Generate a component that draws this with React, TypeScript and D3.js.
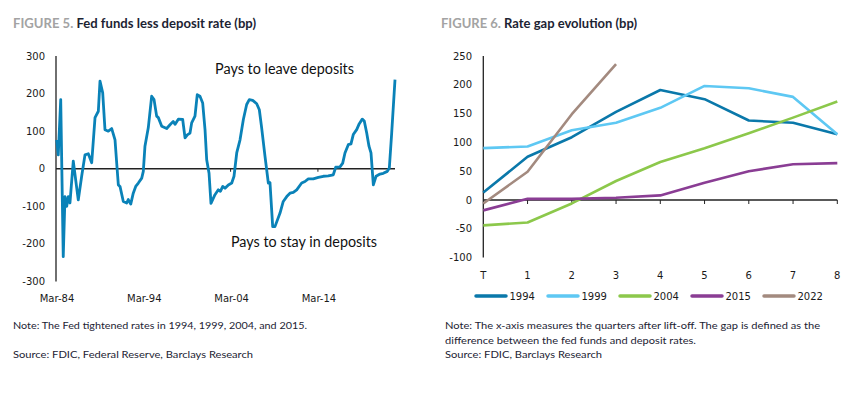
import { useMemo } from 'react';
import * as d3 from 'd3';

// Figure 5: fed funds less deposit rate (bp), decimal years
const spreadDates = [
  1984.25, 1984.43, 1984.71, 1985.0, 1985.2, 1985.4, 1985.58, 1985.77, 1986.15, 1986.72,
  1987.11, 1987.49, 1987.87, 1988.26, 1988.64, 1989.02, 1989.21, 1989.52, 1989.78, 1990.16,
  1990.55, 1990.93, 1991.12, 1991.31, 1991.5, 1991.88, 1992.27, 1992.45, 1992.73, 1993.02,
  1993.3, 1993.6, 1993.99, 1994.17, 1994.36, 1994.74, 1995.13, 1995.4, 1995.7, 1995.89,
  1996.28, 1996.85, 1997.23, 1997.6, 1997.8, 1998.18, 1998.68, 1998.95, 1999.21, 1999.52,
  1999.71, 2000.09, 2000.35, 2000.66, 2000.97, 2001.24, 2001.43, 2001.7, 2001.92, 2002.38,
  2002.76, 2003.0, 2003.27, 2003.53, 2003.91, 2004.3, 2004.56, 2004.87, 2005.25, 2005.63,
  2006.01, 2006.31, 2006.7, 2007.16, 2007.46, 2007.73, 2008.11, 2008.49, 2008.68, 2008.99,
  2009.25, 2009.83, 2010.2, 2010.6, 2010.97, 2011.35, 2011.74, 2012.31, 2012.69, 2013.07,
  2013.64, 2014.22, 2014.79, 2015.36, 2015.93, 2016.21, 2016.7, 2017.01, 2017.27, 2017.65,
  2017.96, 2018.22, 2018.61, 2018.91, 2019.25, 2019.48, 2019.76, 2020.02, 2020.25, 2020.52,
  2020.83, 2021.28, 2021.66, 2022.12, 2022.35, 2022.62, 2023.0,
];
const spreadValues = [
  77, 37, 184, -234, -74, -100, -74, -91, 20, -83,
  -20, 37, 40, 16, 136, 153, 233, 202, 104, 100,
  107, 77, 16, -43, -47, -87, -91, -82, -94, -65,
  -47, -38, -25, -7, 60, 109, 193, 184, 140, 136,
  113, 107, 117, 126, 118, 132, 131, 82, 90, 95,
  122, 140, 197, 193, 175, 104, 24, -12, -92, -69,
  -56, -60, -47, -52, -43, -38, -20, 42, 77, 131,
  171, 184, 182, 173, 157, 108, 33, -38, -37, -154,
  -154, -118, -87, -74, -65, -63, -56, -38, -34, -27,
  -27, -23, -20, -19, -16, 4, 5, 15, 42, 64,
  66, 91, 104, 120, 132, 127, 95, 60, 42, -43,
  -20, -14, -12, -7, 2, 95, 237,
];
const spreadTickYears = [1984.17, 1994.17, 2004.17, 2014.17];
const spreadTickLabels = ['Mar-84', 'Mar-94', 'Mar-04', 'Mar-14'];
const spreadYTicks = [300, 200, 100, 0, -100, -200, -300];

// Figure 6: rate gap evolution (bp)
const quarterLabels = ['T', '1', '2', '3', '4', '5', '6', '7', '8'];
const gapYTicks = [250, 200, 150, 100, 50, 0, -50, -100];
const gapYears = ['1994', '1999', '2004', '2015', '2022'];
const gap1994 = [13, 75, 109, 153, 191, 175, 138, 134, 114];
const gap1999 = [90, 93, 121, 134, 160, 198, 194, 179, 114];
const gap2004 = [-44, -39, -6, 33, 66, 90, 116, 143, 171];
const gap2015 = [-18, 2, 2, 4, 8, 30, 50, 62, 64];
const gap2022 = [-6, 49, 149, 236];
const gapColors = ['#0a78aa', '#5ec8f3', '#8cc84b', '#8a3d94', '#a38a7f'];

const tickFont = '"DejaVu Sans", Verdana, sans-serif';
const textFont = 'Lato, "Open Sans", sans-serif';

export default function App() {
  const left = useMemo(() => {
    const x = d3.scaleLinear().domain([1984.17, 2023.0]).range([56, 395]);
    const y = d3.scaleLinear().domain([-300, 300]).range([281.5, 56]);
    const pts = spreadDates.map((d, i) => [d, spreadValues[i]] as [number, number]);
    const line = d3.line<[number, number]>().x(d => x(d[0])).y(d => y(d[1]));
    return { x, y, path: line(pts) || '' };
  }, []);

  const right = useMemo(() => {
    const x = d3.scalePoint<string>().domain(quarterLabels).range([483.3, 837.3]);
    const y = d3.scaleLinear().domain([-100, 250]).range([257.6, 56]);
    const series = [gap1994, gap1999, gap2004, gap2015, gap2022];
    const line = d3.line<number>().x((_, i) => x(quarterLabels[i]) as number).y(d => y(d));
    return { x, y, paths: series.map(s => line(s) || '') };
  }, []);

  return (
    <svg width={861} height={393} style={{ position: 'absolute', left: 0, top: 0, background: '#fff' }}>
      {/* titles */}
      <text x={13} y={28} fontFamily={textFont} fontWeight={700} fontSize={13} textLength={243} lengthAdjust="spacingAndGlyphs">
        <tspan fill="#a3a3a3">FIGURE 5. </tspan>
        <tspan fill="#1c2333">Fed funds less deposit rate (bp)</tspan>
      </text>
      <text x={441} y={28} fontFamily={textFont} fontWeight={700} fontSize={13} textLength={196} lengthAdjust="spacingAndGlyphs">
        <tspan fill="#a3a3a3">FIGURE 6. </tspan>
        <tspan fill="#1c2333">Rate gap evolution (bp)</tspan>
      </text>

      {/* left chart */}
      <g fontFamily={tickFont} fontSize={10} fill="#1a1a1a">
        {spreadYTicks.map(t => (
          <text key={t} x={45} y={left.y(t)} dy="0.35em" textAnchor="end">{t}</text>
        ))}
        {spreadTickYears.map((t, i) => (
          <text key={t} x={left.x(t) + 1} y={302} textAnchor="middle">{spreadTickLabels[i]}</text>
        ))}
      </g>
      <line x1={56} x2={56} y1={56} y2={281.5} stroke="#222" strokeWidth={1.3} />
      <line x1={56} x2={395} y1={left.y(0)} y2={left.y(0)} stroke="#222" strokeWidth={1.3} />
      {spreadTickYears.slice(1).map(t => (
        <line key={t} x1={left.x(t)} x2={left.x(t)} y1={left.y(0)} y2={left.y(0) + 3} stroke="#222" strokeWidth={1} />
      ))}
      <path d={left.path} fill="none" stroke="#0a82b8" strokeWidth={2.8} strokeLinejoin="round" />
      <text x={215} y={74} fontFamily={textFont} fontSize={14.5} fill="#111" textLength={139} lengthAdjust="spacingAndGlyphs">Pays to leave deposits</text>
      <text x={231} y={247} fontFamily={textFont} fontSize={14.5} fill="#111" textLength={146} lengthAdjust="spacingAndGlyphs">Pays to stay in deposits</text>

      {/* right chart */}
      <g fontFamily={tickFont} fontSize={10} fill="#1a1a1a">
        {gapYTicks.map(t => (
          <text key={t} x={472} y={right.y(t)} dy="0.35em" textAnchor="end">{t}</text>
        ))}
        {quarterLabels.map(q => (
          <text key={q} x={right.x(q)} y={279} textAnchor="middle">{q}</text>
        ))}
      </g>
      <line x1={483.3} x2={483.3} y1={56} y2={257.6} stroke="#222" strokeWidth={1.3} />
      <line x1={483.3} x2={837.3} y1={right.y(0)} y2={right.y(0)} stroke="#222" strokeWidth={1.3} />
      {quarterLabels.slice(1).map(q => (
        <line key={q} x1={right.x(q)} x2={right.x(q)} y1={right.y(0)} y2={right.y(0) + 4} stroke="#222" strokeWidth={1} />
      ))}
      {right.paths.map((p, i) => (
        <path key={gapYears[i]} d={p} fill="none" stroke={gapColors[i]} strokeWidth={2.6} strokeLinejoin="round" />
      ))}

      {/* legend */}
      <g fontFamily={tickFont} fontSize={10} fill="#1a1a1a">
        {gapYears.map((yr, i) => {
          const lx = 476 + i * 72;
          return (
            <g key={yr}>
              <line x1={lx} x2={lx + 30} y1={296} y2={296} stroke={gapColors[i]} strokeWidth={3.5} strokeLinecap="round" />
              <text x={lx + 33.5} y={296} dy="0.35em">{yr}</text>
            </g>
          );
        })}
      </g>

      {/* notes */}
      <g fontFamily={textFont} fontSize={10} fill="#1c2333">
        <text x={13} y={329} textLength={294} lengthAdjust="spacingAndGlyphs">Note: The Fed tightened rates in 1994, 1999, 2004, and 2015.</text>
        <text x={13} y={358} textLength={240} lengthAdjust="spacingAndGlyphs">Source: FDIC, Federal Reserve, Barclays Research</text>
        <text x={445} y={329} textLength={375} lengthAdjust="spacingAndGlyphs">Note: The x-axis measures the quarters after lift-off. The gap is defined as the</text>
        <text x={445} y={344} textLength={251} lengthAdjust="spacingAndGlyphs">difference between the fed funds and deposit rates.</text>
        <text x={445} y={358} textLength={157} lengthAdjust="spacingAndGlyphs">Source: FDIC, Barclays Research</text>
      </g>
    </svg>
  );
}
